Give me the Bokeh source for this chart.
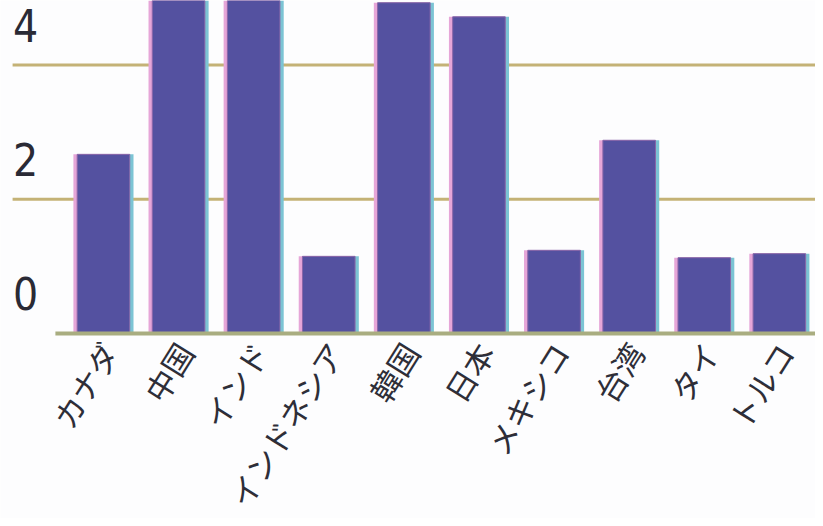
import math
from bokeh.plotting import figure
from bokeh.models import Range1d, ColumnDataSource
from bokeh.transform import dodge
from bokeh.core.properties import value
from bokeh.embed import file_html
from bokeh.resources import INLINE

# data
countries = ["カナダ", "中国", "インド", "インドネシア", "韓国", "日本", "メキシコ", "台湾", "タイ", "トルコ"]
values = [2.67, 6.0, 6.0, 1.15, 4.93, 4.72, 1.24, 2.88, 1.13, 1.19]
y_ticks = [0, 2, 4]
y_tick_labels = ["0", "2", "4"]

idx = list(range(len(countries)))
src = ColumnDataSource(dict(x=idx, top=values, name=countries))
tick_src = ColumnDataSource(dict(y=y_ticks, label=y_tick_labels))
grid_src = ColumnDataSource(dict(y=[t for t in y_ticks if t != 0]))

p = figure(width=815, height=518,
           x_range=Range1d(-1.371, 9.481), y_range=Range1d(-2.757, 4.963),
           output_backend="svg", toolbar_location=None, min_border=0)
p.axis.visible = False
p.grid.visible = False
p.outline_line_color = None
p.background_fill_color = "#fdfdfe"
p.border_fill_color = "#fdfdfe"

# gridlines at 2 and 4
p.segment(x0=-1.21, x1=9.481, y0="y", y1="y", source=grid_src,
          line_color="#c4b276", line_width=3)

# bars with misregistration fringes
p.vbar(x=dodge("x", 0.035, range=p.x_range), top="top", bottom=0, width=0.73,
       source=src, fill_color="#7cc4d4", line_color=None)
p.vbar(x=dodge("x", -0.035, range=p.x_range), top="top", bottom=0, width=0.73,
       source=src, fill_color="#e6a6d8", line_color=None)
p.vbar(x="x", top="top", bottom=0, width=0.70, source=src,
       fill_color="#5451a0", line_color="#8a66a8", line_width=1)

# baseline
p.segment(x0=-0.64, x1=9.481, y0=0, y1=0, line_color="#a9ad80", line_width=4)

# y tick labels (above their lines)
p.text(x=-1.371, y="y", text="label", source=tick_src, x_offset=25, y_offset=-40,
       text_align="center", text_baseline="middle",
       text_font=value("'DejaVu Sans Condensed', 'Liberation Sans', sans-serif"),
       text_font_size="44px", text_color="#2a2a35")

# category labels, rotated
p.text(x="x", y=0, text="name", source=src, x_offset=6, y_offset=12,
       angle=math.radians(58), text_align="right", text_baseline="middle",
       text_font=value("Noto Sans CJK JP"), text_font_size="31px",
       text_color="#2e2e38")

open("out.html", "w").write(file_html(p, INLINE))
